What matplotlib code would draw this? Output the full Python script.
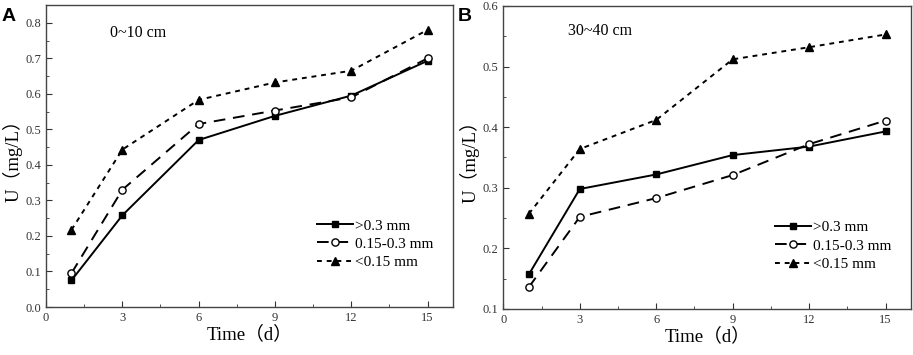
import matplotlib
matplotlib.use("Agg")
import matplotlib.pyplot as plt
from matplotlib.ticker import MultipleLocator

plt.rcParams['font.family'] = ['Liberation Serif', 'Noto Sans CJK SC']

days = [1, 3, 6, 9, 12, 15]
labels = ['>0.3 mm', '0.15-0.3 mm', '<0.15 mm']

# panel A, 0~10 cm
a_coarse = [0.075, 0.258, 0.470, 0.538, 0.595, 0.693]
a_mid = [0.095, 0.330, 0.515, 0.553, 0.590, 0.700]
a_fine = [0.217, 0.443, 0.583, 0.632, 0.665, 0.780]

# panel B, 30~40 cm
b_coarse = [0.157, 0.298, 0.322, 0.354, 0.368, 0.393]
b_mid = [0.136, 0.252, 0.283, 0.321, 0.372, 0.411]
b_fine = [0.257, 0.364, 0.412, 0.512, 0.532, 0.553]

styles = [
    dict(ls='-', marker='s', mfc='black', ms=5, lw=1.4),
    dict(ls=(0, (6, 4)), marker='o', mfc='white', ms=5.2, lw=1.4),
    dict(ls=(0, (2.5, 2.5)), marker='^', mfc='black', ms=5.8, lw=1.4),
]


def draw_panel(ax, series, ylim, ymaj, depth, txt_xy):
    for y, lab, st in zip(series, labels, styles):
        ax.plot(days, y, color='black', mec='black', label=lab, **st)
    ax.set_xlim(0, 16)
    ax.set_ylim(*ylim)
    ax.xaxis.set_major_locator(MultipleLocator(3))
    ax.xaxis.set_minor_locator(MultipleLocator(1.5))
    ax.yaxis.set_major_locator(MultipleLocator(ymaj))
    ax.yaxis.set_minor_locator(MultipleLocator(ymaj / 2))
    ax.tick_params(which='both', direction='in', labelsize=9, colors='#333333')
    ax.tick_params(which='major', length=4)
    ax.tick_params(which='minor', length=2.5)
    ax.yaxis.set_major_formatter(matplotlib.ticker.FormatStrFormatter('%.1f'))
    for s in ax.spines.values():
        s.set_color('#444444')
        s.set_linewidth(1.0)
    ax.set_xlabel('Time（d）', fontsize=13.5, labelpad=1)
    ax.set_ylabel('U（mg/L）', fontsize=13.5, labelpad=2)
    ax.text(txt_xy[0], txt_xy[1], depth, fontsize=11.5)
    ax.legend(loc='lower right', bbox_to_anchor=(0.985, 0.08), frameon=False,
              fontsize=11, handlelength=2.3, handletextpad=0.15, labelspacing=0.3)


fig = plt.figure(figsize=(9.13, 3.55), dpi=100)
ax1 = fig.add_axes([0.0504, 0.1352, 0.4458, 0.8507])
ax2 = fig.add_axes([0.5513, 0.1296, 0.4466, 0.8535])

draw_panel(ax1, [a_coarse, a_mid, a_fine], (0, 0.85), 0.1, '0~10 cm', (2.5, 0.76))
draw_panel(ax2, [b_coarse, b_mid, b_fine], (0.1, 0.6), 0.1, '30~40 cm', (2.55, 0.552))

fig.text(0.002, 0.94, 'A', fontsize=14, fontweight='bold', family='Liberation Sans')
fig.text(0.5015, 0.94, 'B', fontsize=14, fontweight='bold', family='Liberation Sans')

fig.savefig('out.png', dpi=100)
